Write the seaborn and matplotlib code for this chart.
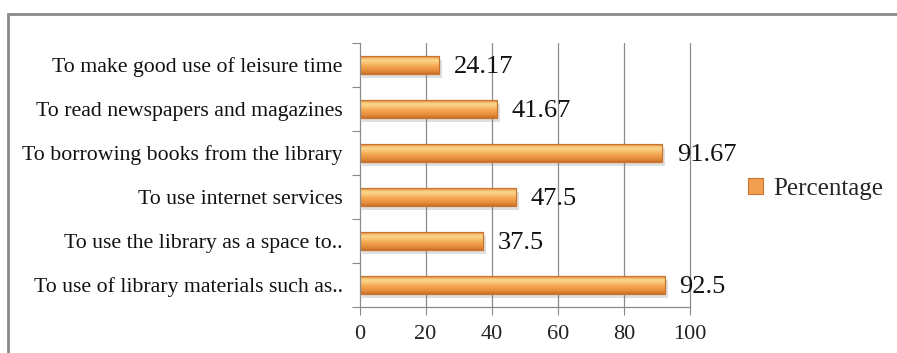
import numpy as np
import pandas as pd
import matplotlib
matplotlib.use("Agg")
import matplotlib.pyplot as plt
import seaborn as sns
from matplotlib.colors import LinearSegmentedColormap
from matplotlib.patches import Rectangle, Patch
from matplotlib import patheffects as pe

categories = [
    "To make good use of leisure time",
    "To read newspapers and magazines",
    "To borrowing books from the library",
    "To use internet services",
    "To use the library as a space to..",
    "To use of library materials such as..",
]
values = [24.17, 41.67, 91.67, 47.5, 37.5, 92.5]
value_labels = ["24.17", "41.67", "91.67", "47.5", "37.5", "92.5"]
series_name = "Percentage"
x_ticks = [0, 20, 40, 60, 80, 100]

df = pd.DataFrame({"category": categories, "value": values})

sns.set_theme(style="white")
plt.rcParams["font.family"] = ["Liberation Serif", "DejaVu Serif"]

fig = plt.figure(figsize=(8.97, 3.53), dpi=100)
ax = fig.add_axes([359.5 / 897, 1 - 307 / 353, (690 - 359.5) / 897, (307 - 43) / 353])

sns.barplot(data=df, x="value", y="category", orient="h", ax=ax,
            color="#F0A04E", width=0.4, edgecolor="#C8742E", linewidth=0.8,
            saturation=1)

cmap = LinearSegmentedColormap.from_list(
    "bar3d", ["#E0873A", "#FBD98C", "#F9C072", "#F3A24C", "#E8913E", "#C9722C"])
grad = np.linspace(0, 1, 64).reshape(-1, 1)
for p in list(ax.patches):
    p.set_path_effects([pe.SimplePatchShadow(offset=(2, -3), alpha=0.25, shadow_rgbFace="#808080"),
                        pe.Normal()])
    x0, y0 = p.get_x(), p.get_y()
    w, h = p.get_width(), p.get_height()
    im = ax.imshow(grad, cmap=cmap, aspect="auto",
                   extent=(x0, x0 + w, y0 + h, y0), origin="upper",
                   interpolation="bicubic", zorder=p.get_zorder() + 0.1)
    im.set_clip_path(p)
    outline = Rectangle((x0, y0), w, h, fill=False, edgecolor="#C8742E",
                        linewidth=0.8, zorder=p.get_zorder() + 0.2)
    ax.add_patch(outline)

ax.set_xlim(0, 100)
ax.set_ylim(len(categories) - 0.5, -0.5)
ax.set_xticks(x_ticks)
ax.set_xticklabels([str(t) for t in x_ticks], fontsize=16, color="#222222")
ax.set_yticks(range(len(categories)))
ax.set_yticklabels(categories, fontsize=15.7, color="#111111")
ax.set_yticks(np.arange(-0.5, len(categories)), minor=True)
ax.tick_params(axis="y", which="major", length=0, pad=12)
ax.tick_params(axis="y", which="minor", length=6, width=0.8, color="#888888", left=True)
ax.tick_params(axis="x", which="major", length=6, width=0.8, color="#888888", bottom=True, pad=7)
ax.set_xlabel("")
ax.set_ylabel("")

ax.grid(False)
for t in x_ticks[1:]:
    ax.axvline(t, color="#8C8C8C", linewidth=0.9, zorder=0, clip_on=False)

for s in ["top", "right"]:
    ax.spines[s].set_visible(False)
for s in ["left", "bottom"]:
    ax.spines[s].set_color("#8C8C8C")
    ax.spines[s].set_linewidth(0.9)

for i, (v, lab) in enumerate(zip(values, value_labels)):
    ax.text(v + 4.3, i + 0.05, lab, va="center", ha="left", fontsize=19, color="#111111")

handle = Patch(facecolor="#F0A04E", edgecolor="#C8742E", linewidth=0.8)
leg = fig.legend([handle], [series_name], loc="center left",
                 bbox_to_anchor=(748 / 897, 1 - 189 / 353), frameon=False,
                 borderpad=0, borderaxespad=0,
                 fontsize=18, handlelength=0.6, handleheight=0.6, handletextpad=0.4)

border = Rectangle((8 / 897, -0.1), 1.2, 1 - 14 / 353 + 0.1, transform=fig.transFigure,
                   fill=False, edgecolor="#8A8A8A", linewidth=2)
fig.patches.append(border)

fig.savefig("out.png", dpi=100)
